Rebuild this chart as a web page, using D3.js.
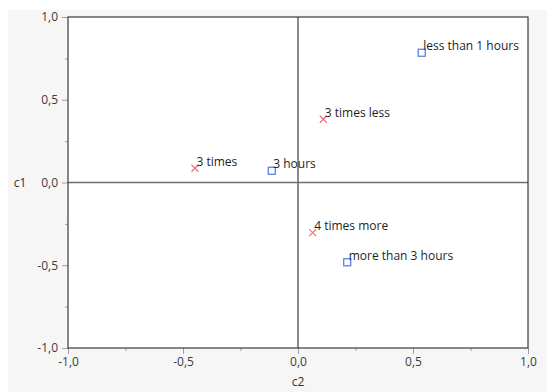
<!DOCTYPE html>
<html>
<head>
<meta charset="utf-8">
<script src="https://cdn.jsdelivr.net/npm/d3@7"></script>
<style>
  html, body { margin: 0; padding: 0; background: #ffffff; }
  svg { display: block; }
  text { font-family: "Open Sans", "Noto Sans", sans-serif; }
</style>
</head>
<body>
<svg id="chart" width="547" height="392"></svg>
<script>
// Correspondence map: row/column categories placed on dimensions c2 (x) and c1 (y)
const labels   = ["less than 1 hours", "3 times less", "3 times", "3 hours", "4 times more", "more than 3 hours"];
const c2Values = [0.538, 0.110, -0.448, -0.114, 0.064, 0.214];
const c1Values = [0.784, 0.382, 0.086, 0.071, -0.303, -0.482];
const kinds    = ["square", "cross", "cross", "square", "cross", "square"];
const majorTicks = [-1.0, -0.5, 0.0, 0.5, 1.0];
const minorTicks = [-0.75, -0.25, 0.25, 0.75];
const tickFmt = v => d3.format(".1f")(v).replace(".", ",").replace("−", "-");

const svg = d3.select("#chart");
const plotLeft = 68, plotRight = 528, plotTop = 17, plotBottom = 348;

// light panel behind the chart
svg.append("rect").attr("x", 8).attr("y", 10).attr("width", 539).attr("height", 382).attr("fill", "#f6f6f6");

const x = d3.scaleLinear().domain([-1, 1]).range([plotLeft, plotRight]);
const y = d3.scaleLinear().domain([-1, 1]).range([plotBottom, plotTop]);

// plot area
svg.append("rect").attr("x", plotLeft).attr("y", plotTop)
  .attr("width", plotRight - plotLeft).attr("height", plotBottom - plotTop)
  .attr("fill", "#ffffff");

// axes: long major ticks with labels, short minor ticks
const xMajor = d3.axisBottom(x).tickValues(majorTicks).tickSize(6).tickPadding(3).tickFormat(tickFmt);
const xMinor = d3.axisBottom(x).tickValues(minorTicks).tickSize(3).tickFormat("");
const yMajor = d3.axisLeft(y).tickValues(majorTicks).tickSize(6).tickPadding(4).tickFormat(tickFmt);
const yMinor = d3.axisLeft(y).tickValues(minorTicks).tickSize(3).tickFormat("");

function styleAxis(g) {
  g.select(".domain").remove();
  g.selectAll(".tick line").attr("stroke", "#a0a0a0");
  g.selectAll(".tick text").attr("fill", "#3c3c3c").style("font-size", "12px")
    .style("font-family", "'Open Sans', 'Noto Sans', sans-serif");
}
svg.append("g").attr("transform", `translate(0,${plotBottom})`).call(xMajor).call(styleAxis);
svg.append("g").attr("transform", `translate(0,${plotBottom})`).call(xMinor).call(styleAxis);
svg.append("g").attr("transform", `translate(${plotLeft},0)`).call(yMajor).call(styleAxis);
svg.append("g").attr("transform", `translate(${plotLeft},0)`).call(yMinor).call(styleAxis);

// zero reference lines
svg.append("line").attr("x1", plotLeft).attr("x2", plotRight).attr("y1", y(0)).attr("y2", y(0))
  .attr("stroke", "#6e6e6e").attr("stroke-width", 1.6);
svg.append("line").attr("x1", x(0)).attr("x2", x(0)).attr("y1", plotTop).attr("y2", plotBottom)
  .attr("stroke", "#6e6e6e").attr("stroke-width", 1.6);

// frame
svg.append("rect").attr("x", plotLeft).attr("y", plotTop)
  .attr("width", plotRight - plotLeft).attr("height", plotBottom - plotTop)
  .attr("fill", "none").attr("stroke", "#3a3a3a").attr("stroke-width", 1.2);

// axis titles
svg.append("text").attr("x", x(0)).attr("y", 386).attr("text-anchor", "middle")
  .attr("fill", "#333").style("font-size", "12px").text("c2");
svg.append("text").attr("x", 20).attr("y", y(0) + 4).attr("text-anchor", "middle")
  .attr("fill", "#333").style("font-size", "12px").text("c1");

// points and labels
const pts = labels.map((l, i) => ({ label: l, c2: c2Values[i], c1: c1Values[i], kind: kinds[i] }));
const g = svg.append("g");
pts.forEach(p => {
  const px = x(p.c2), py = y(p.c1);
  if (p.kind === "square") {
    g.append("rect").attr("x", px - 3.5).attr("y", py - 3.5).attr("width", 7).attr("height", 7)
      .attr("fill", "none").attr("stroke", "#5a82e6").attr("stroke-width", 1.3);
  } else {
    const s = 3.5;
    g.append("path").attr("d", `M${px - s},${py - s}L${px + s},${py + s}M${px - s},${py + s}L${px + s},${py - s}`)
      .attr("stroke", "#ec6f7a").attr("stroke-width", 1.2).attr("fill", "none");
  }
  g.append("text").attr("x", px + 1.5).attr("y", py - 2.5).attr("fill", "#1e1e1e")
    .style("font-size", "12px").text(p.label);
});
</script>
</body>
</html>
